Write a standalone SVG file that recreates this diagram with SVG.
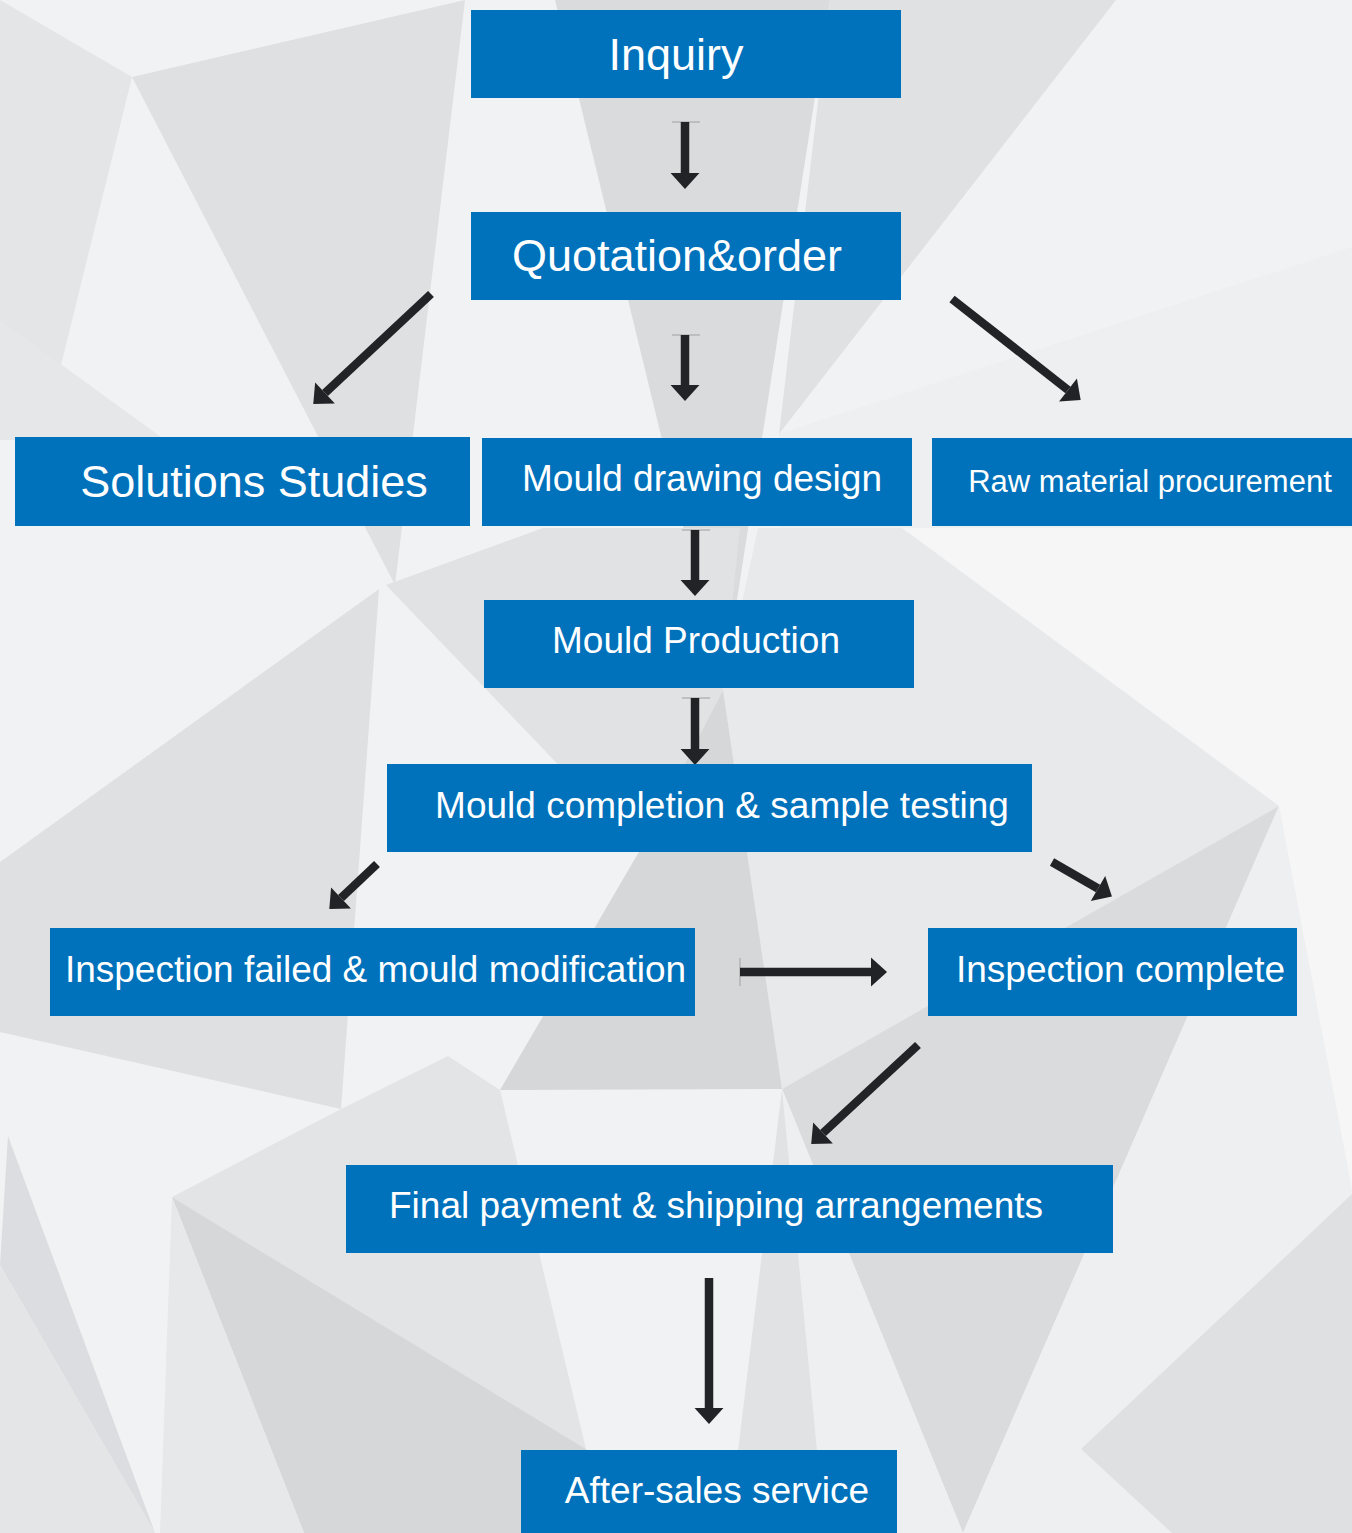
<svg xmlns="http://www.w3.org/2000/svg" width="1352" height="1533" viewBox="0 0 1352 1533">
<style>
.box{fill:#0071bb}
.t{fill:#ffffff;font-family:"Liberation Sans",Arial,sans-serif;text-anchor:middle}
.arr{stroke:#222326;stroke-width:8.5;fill:none;marker-end:url(#ah)}
.tick{stroke:#a9aaac;stroke-width:1.2}
</style>
<defs>
<marker id="ah" markerUnits="userSpaceOnUse" markerWidth="30" markerHeight="30" viewBox="-1 -14 17 28" refX="0" refY="0" orient="auto">
<path d="M0,-13.5 L15,0 L0,13.5 Z" fill="#222326"/>
</marker>
</defs>
<g id="background">
<rect width="1352" height="1533" fill="#f1f2f3"/>
<polygon points="0,0 132,77 45,430 0,420" fill="#e4e5e6"/>
<polygon points="132,77 465,0 395,585" fill="#dfe0e2"/>
<polygon points="0,320 165,440 0,440" fill="#e6e7e8"/>
<polygon points="555,0 830,0 723,690" fill="#dadbdd"/>
<polygon points="830,0 1116,0 779,434" fill="#e0e1e3"/>
<polygon points="779,434 1352,247 1352,530 780,530" fill="#eeeff0"/>
<polygon points="902,528 1352,528 1352,1190 1279,806" fill="#f6f6f7"/>
<polygon points="902,528 1279,806 782,1089 723,690 758,528" fill="#e8e9eb"/>
<polygon points="386,585 543,528 740,528 723,690 640,850" fill="#e1e2e4"/>
<polygon points="723,690 782,1089 500,1090 640,850" fill="#d6d7d9"/>
<polygon points="1279,806 963,1533 782,1089" fill="#dadbdd"/>
<polygon points="1279,806 1352,1190 1352,1194 1081,1449 1172,1533 963,1533" fill="#eeeff0"/>
<polygon points="1352,1194 1081,1449 1172,1533 1352,1533" fill="#dfe0e2"/>
<polygon points="782,1089 963,1533 825,1533" fill="#eeeff0"/>
<polygon points="782,1089 825,1533 728,1533" fill="#e1e2e4"/>
<polygon points="0,862 379,589 341,1109 0,1032" fill="#dfe0e2"/>
<polygon points="172,1197 341,1109 448,1056 500,1090 586,1449" fill="#e3e4e6"/>
<polygon points="172,1197 586,1449 620,1533 304,1533" fill="#d6d7d9"/>
<polygon points="172,1197 304,1533 160,1533" fill="#e7e8ea"/>
<polygon points="8,1136 155,1533 0,1265" fill="#dcdde0"/>
<polygon points="0,1265 155,1533 0,1533" fill="#e4e5e6"/>
<polygon points="586,1449 728,1533 620,1533" fill="#e0e1e3"/>
</g>
<g id="connectors">
<line class="tick" x1="672" y1="122" x2="700" y2="122"/>
<line class="tick" x1="672" y1="335" x2="700" y2="335"/>
<line class="tick" x1="682" y1="530" x2="710" y2="530"/>
<line class="tick" x1="682" y1="698" x2="710" y2="698"/>
<line class="tick" x1="740" y1="958" x2="740" y2="986"/>
<line class="arr" x1="685" y1="122" x2="685" y2="173"/>
<line class="arr" x1="685" y1="335" x2="685" y2="385"/>
<line class="arr" x1="431" y1="294" x2="325" y2="393"/>
<line class="arr" x1="952" y1="299" x2="1068" y2="390"/>
<line class="arr" x1="695" y1="530" x2="695" y2="580"/>
<line class="arr" x1="695" y1="698" x2="695" y2="749"/>
<line class="arr" x1="377" y1="864" x2="341" y2="898"/>
<line class="arr" x1="1052" y1="862" x2="1098" y2="888.5"/>
<line class="arr" x1="740" y1="972" x2="871" y2="972"/>
<line class="arr" x1="918" y1="1045" x2="823" y2="1133"/>
<line class="arr" x1="709" y1="1278" x2="709" y2="1408"/>
</g>
<g id="n-inquiry"><rect class="box" x="471" y="10" width="430" height="88"/><text class="t" x="676" y="70" font-size="45">Inquiry</text></g>
<g id="n-quotation"><rect class="box" x="471" y="212" width="430" height="88"/><text class="t" x="677" y="271" font-size="45">Quotation&amp;order</text></g>
<g id="n-solutions"><rect class="box" x="15" y="437" width="455" height="89"/><text class="t" x="254" y="497" font-size="45">Solutions Studies</text></g>
<g id="n-drawing"><rect class="box" x="482" y="438" width="430" height="88"/><text class="t" x="702" y="491" font-size="37">Mould drawing design</text></g>
<g id="n-raw"><rect class="box" x="932" y="438" width="420" height="88"/><text class="t" x="1150" y="492" font-size="31">Raw material procurement</text></g>
<g id="n-production"><rect class="box" x="484" y="600" width="430" height="88"/><text class="t" x="696" y="653" font-size="37">Mould Production</text></g>
<g id="n-completion"><rect class="box" x="387" y="764" width="645" height="88"/><text class="t" x="722" y="818" font-size="37">Mould completion &amp; sample testing</text></g>
<g id="n-failed"><rect class="box" x="50" y="928" width="645" height="88"/><text class="t" x="375.5" y="982" font-size="37">Inspection failed &amp; mould modification</text></g>
<g id="n-complete"><rect class="box" x="928" y="928" width="369" height="88"/><text class="t" x="1120.5" y="982" font-size="37">Inspection complete</text></g>
<g id="n-final"><rect class="box" x="346" y="1165" width="767" height="88"/><text class="t" x="716" y="1218" font-size="37">Final payment &amp; shipping arrangements</text></g>
<g id="n-aftersales"><rect class="box" x="521" y="1450" width="376" height="83"/><text class="t" x="717" y="1503" font-size="37">After-sales service</text></g>
</svg>
